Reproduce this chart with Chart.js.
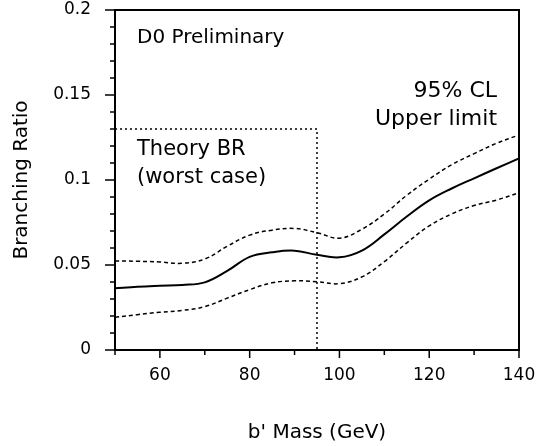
<!DOCTYPE html>
<html>
<head>
<meta charset="utf-8">
<script src="https://cdn.jsdelivr.net/npm/chart.js@4.4.1/dist/chart.umd.min.js"></script>
<style>
  html, body { margin: 0; padding: 0; background: #ffffff; }
  #wrap { width: 536px; height: 446px; }
</style>
</head>
<body>
<div id="wrap"><canvas id="c" width="536" height="446"></canvas></div>
<script>
// ---- data ----
const massGeV   = [50, 55, 60, 65, 70, 75, 80, 85, 90, 95, 100, 105, 110, 115, 120, 125, 130, 135, 140];
const centralBR = [0.0363, 0.0372, 0.0378, 0.0383, 0.0398, 0.0465, 0.0548, 0.0575, 0.0584, 0.0560, 0.0545, 0.0585, 0.0680, 0.0785, 0.0880, 0.0950, 0.1010, 0.1069, 0.1127];
const upperBR   = [0.0524, 0.0522, 0.0518, 0.0510, 0.0535, 0.0610, 0.0676, 0.0705, 0.0715, 0.0690, 0.0658, 0.0710, 0.0800, 0.0910, 0.1005, 0.1090, 0.1155, 0.1216, 0.1265];
const lowerBR   = [0.0192, 0.0208, 0.0222, 0.0233, 0.0255, 0.0305, 0.0355, 0.0395, 0.0407, 0.0402, 0.0390, 0.0430, 0.0520, 0.0630, 0.0730, 0.0800, 0.0850, 0.0882, 0.0925];
const theoryMass = [50, 95, 95];
const theoryBR   = [0.13, 0.13, 0];
const xTickLabels = [60, 80, 100, 120, 140];
const yTickLabels = ['0', '0.05', '0.1', '0.15', '0.2'];
const annotations = [
  { text: 'D0 Preliminary', x: 54.9, y: 0.1806, align: 'left', size: 20 },
  { text: '95% CL', x: 135.1, y: 0.1490, align: 'right', size: 22 },
  { text: 'Upper limit', x: 135.1, y: 0.1324, align: 'right', size: 22 },
  { text: 'Theory BR', x: 54.9, y: 0.1147, align: 'left', size: 21 },
  { text: '(worst case)', x: 54.9, y: 0.0980, align: 'left', size: 21 }
];

const FONT = "'DejaVu Sans', sans-serif";
const pts = (xs, ys) => xs.map((x, i) => ({ x: x, y: ys[i] }));

const framePlugin = {
  id: 'frame',
  afterDatasetsDraw(chart) {
    const { ctx, chartArea: a, scales } = chart;
    const xs = scales.x, ys = scales.y;
    ctx.save();
    ctx.strokeStyle = '#000';
    ctx.lineWidth = 2;
    ctx.strokeRect(a.left, a.top, a.right - a.left, a.bottom - a.top);
    ctx.lineWidth = 1.5;
    // x ticks
    for (let v = 50; v <= 140; v += 10) {
      const px = xs.getPixelForValue(v);
      const len = (v % 20 === 0) ? 8 : 5;
      ctx.beginPath(); ctx.moveTo(px, a.bottom); ctx.lineTo(px, a.bottom + len); ctx.stroke();
    }
    // y ticks
    for (let k = 0; k <= 20; k++) {
      const py = ys.getPixelForValue(k / 100);
      const len = (k % 5 === 0) ? 10 : 5;
      ctx.beginPath(); ctx.moveTo(a.left - len, py); ctx.lineTo(a.left, py); ctx.stroke();
    }
    // annotations
    ctx.fillStyle = '#000';
    ctx.textBaseline = 'alphabetic';
    annotations.forEach(t => {
      ctx.font = t.size + 'px ' + FONT;
      ctx.textAlign = t.align;
      ctx.fillText(t.text, xs.getPixelForValue(t.x), ys.getPixelForValue(t.y));
    });
    ctx.restore();
  }
};

new Chart(document.getElementById('c'), {
  type: 'line',
  data: {
    datasets: [
      { label: 'Upper limit', data: pts(massGeV, centralBR), borderColor: '#000', borderWidth: 2, pointRadius: 0, tension: 0.4, fill: false },
      { label: 'Upper band', data: pts(massGeV, upperBR), borderColor: '#000', borderWidth: 1.5, borderDash: [4, 3], pointRadius: 0, tension: 0.4, fill: false },
      { label: 'Lower band', data: pts(massGeV, lowerBR), borderColor: '#000', borderWidth: 1.5, borderDash: [4, 3], pointRadius: 0, tension: 0.4, fill: false },
      { label: 'Theory BR', data: pts(theoryMass, theoryBR), borderColor: '#000', borderWidth: 1.5, borderDash: [2, 3], pointRadius: 0, tension: 0, fill: false }
    ]
  },
  options: {
    responsive: false,
    animation: false,
    devicePixelRatio: 1,
    layout: { padding: { left: 0, right: 17, top: 10, bottom: 0 } },
    plugins: { legend: { display: false }, tooltip: { enabled: false } },
    scales: {
      x: {
        type: 'linear', min: 50, max: 140,
        grid: { display: false, drawTicks: false },
        border: { display: false },
        ticks: {
          stepSize: 10, autoSkip: false, maxRotation: 0, padding: 15, color: '#000',
          font: { family: FONT, size: 17 },
          callback: v => xTickLabels.includes(v) ? String(v) : ''
        },
        title: { display: true, text: "b' Mass (GeV)", color: '#000', font: { family: FONT, size: 20 }, padding: { top: 0, bottom: 1 } },
        afterFit: s => { s.height = 96; s.paddingLeft = 0; s.paddingRight = 0; }
      },
      y: {
        type: 'linear', min: 0, max: 0.2,
        grid: { display: false, drawTicks: false },
        border: { display: false },
        ticks: {
          stepSize: 0.01, autoSkip: false, padding: 24, color: '#000',
          font: { family: FONT, size: 17 },
          callback: v => { const k = Math.round(v * 100); return k % 5 === 0 ? yTickLabels[k / 5] : ''; }
        },
        title: { display: true, text: 'Branching Ratio', color: '#000', font: { family: FONT, size: 20 }, padding: { top: 10, bottom: 0 } },
        afterFit: s => { s.width = 115; s.paddingTop = 0; s.paddingBottom = 0; }
      }
    }
  },
  plugins: [framePlugin]
});
</script>
</body>
</html>
